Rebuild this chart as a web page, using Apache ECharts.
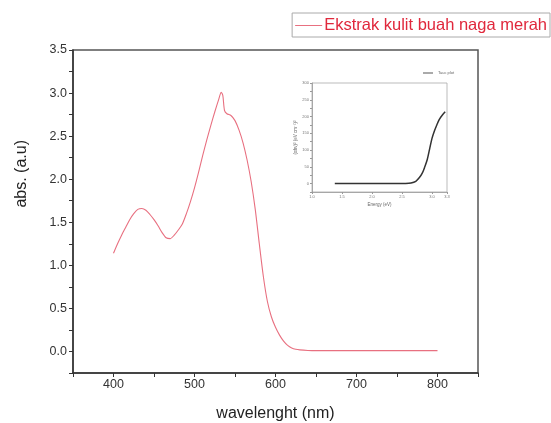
<!DOCTYPE html>
<html><head><meta charset="utf-8">
<script src="https://cdn.jsdelivr.net/npm/echarts@6/dist/echarts.min.js"></script>
<style>html,body{margin:0;padding:0;background:#fff}#c{width:551px;height:423px}</style>
</head><body><div id="c"></div>
<script>
// Main spectrum: wavelength (nm) vs absorbance (a.u.)
const wavelength = [400,405,410,415,420,425,430,435,440,445,450,455,460,465,470,475,480,485,490,495,500,505,510,515,520,525,530,533,535,537,540,545,550,555,560,565,570,575,580,585,590,595,600,605,610,615,620,625,630,640,650,675,700,750,800];
const absorbance = [1.14,1.25,1.35,1.44,1.53,1.60,1.65,1.66,1.64,1.59,1.53,1.46,1.38,1.32,1.31,1.35,1.41,1.48,1.60,1.74,1.90,2.08,2.27,2.45,2.62,2.78,2.93,3.01,2.97,2.80,2.76,2.74,2.68,2.57,2.42,2.22,1.97,1.65,1.25,0.87,0.58,0.40,0.28,0.19,0.12,0.07,0.04,0.025,0.018,0.012,0.01,0.01,0.01,0.01,0.01];
// Inset: energy (eV) vs Tauc quantity
const energy = [1.38,1.6,1.8,2.0,2.2,2.4,2.55,2.65,2.73,2.79,2.84,2.88,2.92,2.96,3.00,3.04,3.08,3.12,3.17,3.22];
const tauc   = [0,0,0,0,0,0,0.5,2,7,18,32,50,71,103,135,157,175,191,204,214];
const mainXTicks = [400,500,600,700,800];
const mainYTicks = ['0.0','0.5','1.0','1.5','2.0','2.5','3.0','3.5'];
const seriesName = 'Ekstrak kulit buah naga merah';
const insetName = 'Tauc plot';
const yTitle = 'abs. (a.u)';

const chart = echarts.init(document.getElementById('c'), null, {renderer:'canvas'});
const FONT = 'Liberation Sans, Arial, sans-serif';
const pair = (xs, ys) => xs.map((x,i)=>[x, ys[i]]);
const isMult = (v, s) => Math.abs(v/s - Math.round(v/s)) < 1e-6;

chart.setOption({
  animation:false,
  backgroundColor:'#fff',
  graphic:[{
    type:'text', left:14, top:140, rotation:Math.PI/2,
    style:{text:yTitle, fontSize:16, fill:'#222', fontFamily:FONT}
  }],
  legend:[{
    data:[seriesName], right:1, top:13, orient:'horizontal',
    borderColor:'#aaa', borderWidth:1, padding:[4,3,3,3],
    icon:'rect', itemWidth:27, itemHeight:1, itemGap:3,
    textStyle:{color:'#e0283c', fontSize:16.5, fontFamily:FONT, padding:[0,0,0,-3]},
    itemStyle:{color:'#e87080'}
  },{
    data:[insetName], left:423, top:71, icon:'rect', itemWidth:10, itemHeight:1, padding:0,
    textStyle:{color:'#666', fontSize:4, fontFamily:FONT},
    itemStyle:{color:'#555'}
  }],
  grid:[
    {left:73, right:73, top:50, bottom:50, containLabel:false, outerBoundsMode:'none',
     show:true, borderColor:'#555', borderWidth:1.5},
    {left:312, width:135, top:83, height:109, containLabel:false, outerBoundsMode:'none',
     show:true, borderColor:'#aaa', borderWidth:0.8}
  ],
  xAxis:[{
    gridIndex:0, type:'value', min:350, max:850, interval:50,
    name:'wavelenght (nm)', nameLocation:'middle', nameGap:33,
    nameTextStyle:{fontSize:16, color:'#222', fontFamily:FONT},
    axisLine:{onZero:false, lineStyle:{color:'#333', width:1.5}},
    axisTick:{show:true, length:4, lineStyle:{color:'#333'}},
    axisLabel:{fontSize:12.5, color:'#333', fontFamily:FONT, margin:5,
      formatter:v => mainXTicks.includes(v) ? String(v) : ''},
    splitLine:{show:false}
  },{
    gridIndex:1, type:'value', min:1.0, max:3.25, interval:0.5,
    name:'Energy (eV)', nameLocation:'middle', nameGap:10,
    nameTextStyle:{fontSize:4.5, color:'#666', fontFamily:FONT},
    axisLine:{onZero:false, lineStyle:{color:'#999', width:0.8}},
    axisTick:{length:2, lineStyle:{color:'#999'}},
    axisLabel:{fontSize:4, color:'#777', fontFamily:FONT, margin:3,
      formatter:v => v.toFixed(1)},
    splitLine:{show:false}
  }],
  yAxis:[{
    gridIndex:0, type:'value', min:-0.25, max:3.5, interval:0.25,
    axisLine:{show:true, onZero:false, lineStyle:{color:'#333', width:1.5}},
    axisTick:{show:true, length:4, lineStyle:{color:'#333'}},
    axisLabel:{fontSize:12.5, color:'#333', fontFamily:FONT, margin:6,
      formatter:v => (v >= 0 && isMult(v,0.5)) ? mainYTicks[Math.round(v/0.5)] : ''},
    splitLine:{show:false}
  },{
    gridIndex:1, type:'value', min:-25, max:300, interval:25,
    name:'(αhν)² (eV cm⁻¹)²', nameLocation:'middle', nameGap:13, nameRotate:90,
    nameTextStyle:{fontSize:4.5, color:'#666', fontFamily:FONT},
    axisLine:{show:true, onZero:false, lineStyle:{color:'#999', width:0.8}},
    axisTick:{show:true, length:2, lineStyle:{color:'#999'}},
    axisLabel:{fontSize:4, color:'#777', fontFamily:FONT, margin:3,
      formatter:v => (v >= 0 && isMult(v,50)) ? String(v) : ''},
    splitLine:{show:false}
  }],
  series:[{
    name:seriesName, type:'line', xAxisIndex:0, yAxisIndex:0,
    data:pair(wavelength, absorbance), showSymbol:false, symbol:'none',
    smooth:0.25, lineStyle:{color:'#e87080', width:1.1}, itemStyle:{color:'#e87080'}
  },{
    name:insetName, type:'line', xAxisIndex:1, yAxisIndex:1,
    data:pair(energy, tauc), showSymbol:false, symbol:'none',
    smooth:0.3, lineStyle:{color:'#333', width:1.5}, itemStyle:{color:'#555'}
  }]
});
</script></body></html>
